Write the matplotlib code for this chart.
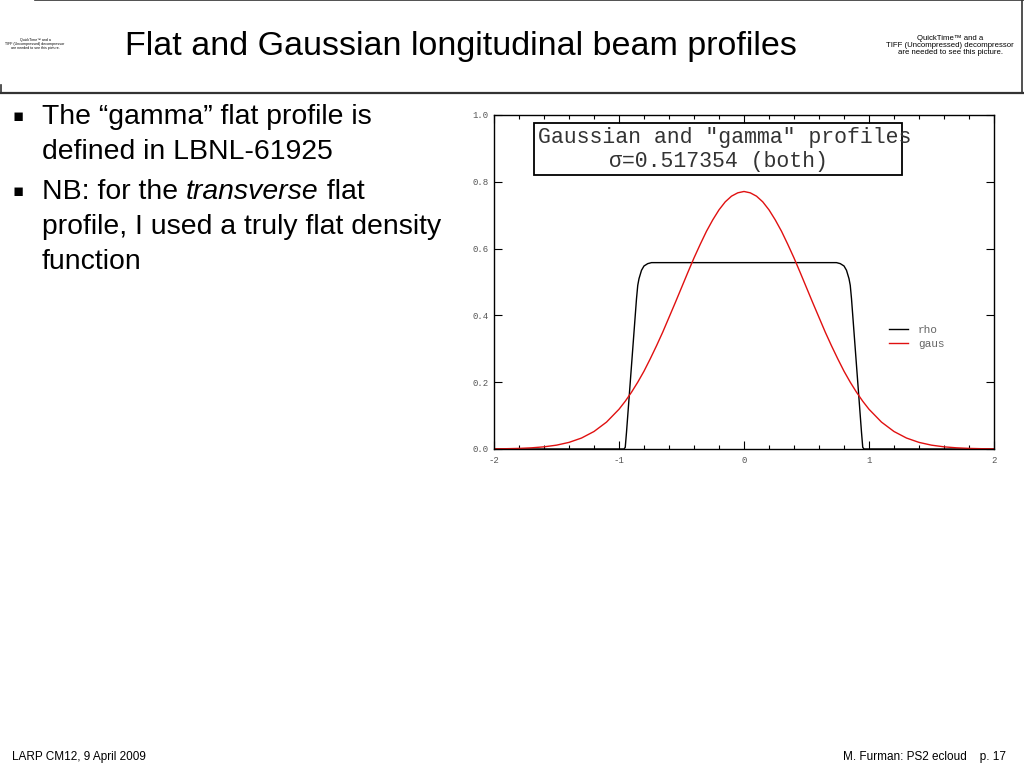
import matplotlib.pyplot as plt
from matplotlib.patches import Rectangle

plt.rcParams["axes.unicode_minus"] = False

# profile samples
x_gaus = [-2.0, -1.9, -1.8, -1.7, -1.6, -1.5, -1.4, -1.3, -1.2, -1.1,
          -1.0, -0.95, -0.9, -0.85, -0.8, -0.75, -0.7, -0.65, -0.6, -0.55,
          -0.5, -0.45, -0.4, -0.35, -0.3, -0.25, -0.2, -0.15, -0.1, -0.05,
          0.0, 0.05, 0.1, 0.15, 0.2, 0.25, 0.3, 0.35, 0.4, 0.45,
          0.5, 0.55, 0.6, 0.65, 0.7, 0.75, 0.8, 0.85, 0.9, 0.95,
          1.0, 1.1, 1.2, 1.3, 1.4, 1.5, 1.6, 1.7, 1.8, 1.9, 2.0]
gaus = [0.0004, 0.0009, 0.0018, 0.0035, 0.0065, 0.0115, 0.0198, 0.0328, 0.0524, 0.0805,
        0.119, 0.143, 0.170, 0.200, 0.233, 0.270, 0.309, 0.350, 0.394, 0.438,
        0.483, 0.528, 0.572, 0.613, 0.652, 0.686, 0.716, 0.740, 0.757, 0.767,
        0.771, 0.767, 0.757, 0.740, 0.716, 0.686, 0.652, 0.613, 0.572, 0.528,
        0.483, 0.438, 0.394, 0.350, 0.309, 0.270, 0.233, 0.200, 0.170, 0.143,
        0.119, 0.0805, 0.0524, 0.0328, 0.0198, 0.0115, 0.0065, 0.0035, 0.0018, 0.0009, 0.0004]

x_rho = [-2.0, -0.96, -0.95, -0.94, -0.93, -0.92, -0.90, -0.89, -0.87, -0.86,
         -0.85, -0.84, -0.82, -0.80, -0.77, -0.74, 0.0,
         0.74, 0.77, 0.80, 0.82, 0.84, 0.85, 0.86, 0.87, 0.89,
         0.90, 0.92, 0.93, 0.94, 0.95, 0.96, 2.0]
rho = [0.0, 0.0, 0.005, 0.05, 0.10, 0.15, 0.25, 0.30, 0.40, 0.45,
       0.49, 0.51, 0.535, 0.548, 0.555, 0.558, 0.558,
       0.558, 0.555, 0.548, 0.535, 0.51, 0.49, 0.45, 0.40, 0.30,
       0.25, 0.15, 0.10, 0.05, 0.005, 0.0, 0.0]

# each line is a list of (text, style) pieces
bullets = [
    [[("The \u201cgamma\u201d flat profile is", "normal")], [("defined in LBNL-61925", "normal")]],
    [[("NB: for the ", "normal"), ("transverse", "italic"), (" flat", "normal")],
     [("profile, I used a truly flat density", "normal")], [("function", "normal")]],
]

fig = plt.figure(figsize=(10.24, 7.68), dpi=100)
sans = "Liberation Sans"
mono = "Liberation Mono"
renderer = fig.canvas.get_renderer()

# slide frame lines
fig.add_artist(plt.Line2D([35 / 1024, 1], [1, 1], color="#333333", lw=1.2, transform=fig.transFigure))
fig.add_artist(plt.Line2D([1022 / 1024, 1022 / 1024], [1, 1 - 93 / 768], color="#333333", lw=1.2, transform=fig.transFigure))
fig.add_artist(plt.Line2D([0, 1], [1 - 93 / 768, 1 - 93 / 768], color="#333333", lw=1.6, transform=fig.transFigure))
fig.add_artist(plt.Line2D([1 / 1024, 1 / 1024], [1 - 85 / 768, 1 - 93 / 768], color="#333333", lw=1.2, transform=fig.transFigure))

fig.text(461 / 1024, 1 - 47 / 768, "Flat and Gaussian longitudinal beam profiles",
         family=sans, fontsize=24.5, ha="center", va="center")
fig.text(35 / 1024, 1 - 44 / 768, "QuickTime\u2122 and a\nTIFF (Uncompressed) decompressor\nare needed to see this picture.",
         family=sans, fontsize=2.6, ha="center", va="center", linespacing=1.0)
fig.text(950 / 1024, 1 - 45 / 768, "QuickTime\u2122 and a\nTIFF (Uncompressed) decompressor\nare needed to see this picture.",
         family=sans, fontsize=5.6, ha="center", va="center", linespacing=1.0)

y = 117
for item in bullets:
    fig.text(18 / 1024, 1 - (y - 1) / 768, "\u25aa", family="DejaVu Sans", fontsize=12, ha="center", va="center")
    for line in item:
        x = 42
        for piece, style in line:
            t = fig.text(x / 1024, 1 - y / 768, piece, family=sans, style=style,
                         fontsize=20.4, ha="left", va="center")
            x += t.get_window_extent(renderer).width
        y += 35
    y += 5

fig.text(12 / 1024, 1 - 757 / 768, "LARP CM12, 9 April 2009", family=sans, fontsize=8.5, ha="left", va="center")
fig.text(1006 / 1024, 1 - 757 / 768, "M. Furman: PS2 ecloud    p. 17", family=sans, fontsize=8.5, ha="right", va="center")

ax = fig.add_axes([494 / 1024, 1 - 449 / 768, 500 / 1024, 334 / 768])
ax.plot(x_rho, rho, color="black", lw=1.0, label="rho")
ax.plot(x_gaus, gaus, color="#e01010", lw=1.0, label="gaus")
ax.set_xlim(-2, 2)
ax.set_ylim(0, 1)
ax.set_xticks([-2, -1, 0, 1, 2])
ax.set_xticks([i / 5 - 2 for i in range(21)], minor=True)
ax.set_yticks([0.0, 0.2, 0.4, 0.6, 0.8, 1.0])
ax.set_yticklabels(["0.0", "0.2", "0.4", "0.6", "0.8", "1.0"])
ax.tick_params(axis="x", which="major", direction="in", top=True, length=6, width=0.8,
               labelsize=6.5, labelcolor="#555555", pad=5)
ax.tick_params(axis="x", which="minor", direction="in", top=True, length=3, width=0.8)
ax.tick_params(axis="y", which="major", direction="in", right=True, length=6, width=0.8,
               labelsize=6.5, labelcolor="#555555", pad=4)
for lab in ax.get_xticklabels() + ax.get_yticklabels():
    lab.set_family(mono)
for s in ax.spines.values():
    s.set_linewidth(1.0)

ax.add_patch(Rectangle((0.08, 0.82), 0.736, 0.156, transform=ax.transAxes,
                       fill=False, ec="black", lw=1.3, clip_on=False))
ax.text(0.462, 0.934, 'Gaussian and "gamma" profiles', transform=ax.transAxes,
        family=mono, fontsize=15.5, color="#333333", ha="center", va="center")
ax.text(0.448, 0.860, "\u03c3=0.517354 (both)", transform=ax.transAxes,
        family=mono, fontsize=15.5, color="#333333", ha="center", va="center")

leg = ax.legend(loc="center left", bbox_to_anchor=(0.77, 0.335), frameon=False,
                handlelength=1.7, handletextpad=0.9, labelspacing=0.35,
                prop={"family": mono, "size": 8})
for t in leg.get_texts():
    t.set_color("#666666")

fig.savefig("out.png", dpi=100)
